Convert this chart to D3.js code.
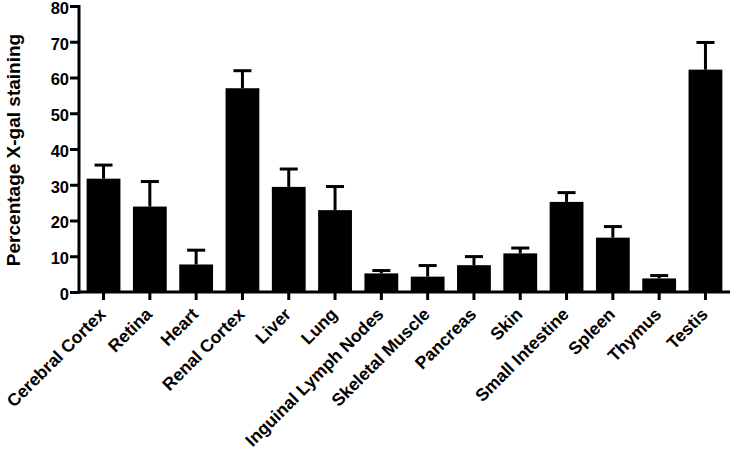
<!DOCTYPE html>
<html>
<head>
<meta charset="utf-8">
<script src="https://cdn.jsdelivr.net/npm/d3@7"></script>
<style>
body { margin: 0; background: #fff; }
text { font-family: "Liberation Sans", Arial, sans-serif; font-weight: bold; }
</style>
</head>
<body>
<svg id="chart" width="733" height="455"></svg>
<script>
// tissues and mean / upper error values
const tissues = ["Cerebral Cortex", "Retina", "Heart", "Renal Cortex", "Liver", "Lung",
  "Inguinal Lymph Nodes", "Skeletal Muscle", "Pancreas", "Skin", "Small Intestine",
  "Spleen", "Thymus", "Testis"];
const means = [31.7, 23.9, 7.7, 57.0, 29.4, 22.9, 5.2, 4.3, 7.5, 10.8, 25.2, 15.2, 3.8, 62.2];
const errs  = [3.8, 7.0, 4.0, 4.9, 5.0, 6.6, 0.8, 3.1, 2.4, 1.5, 2.6, 3.1, 0.8, 7.6];
const yTicks = [0, 10, 20, 30, 40, 50, 60, 70, 80];

const svg = d3.select("#chart");
const mLeft = 79, mRight = 730, mTop = 6, mBottom = 292;

const x = d3.scaleBand().domain(tissues).range([mLeft, mRight])
  .paddingInner(0.27).paddingOuter(0.165);
const y = d3.scaleLinear().domain([0, 80]).range([mBottom, mTop]);

//----bars
svg.selectAll("rect.bar").data(tissues).enter().append("rect")
  .attr("class", "bar")
  .attr("x", d => x(d))
  .attr("width", x.bandwidth())
  .attr("y", (d, i) => y(means[i]))
  .attr("height", (d, i) => y(0) - y(means[i]))
  .attr("fill", "#000");

//----error bars (upper only)
const capW = 18;
tissues.forEach((t, i) => {
  const cx = x(t) + x.bandwidth() / 2;
  svg.append("line")
    .attr("x1", cx).attr("x2", cx)
    .attr("y1", y(means[i])).attr("y2", y(means[i] + errs[i]))
    .attr("stroke", "#000").attr("stroke-width", 3);
  svg.append("line")
    .attr("x1", cx - capW / 2).attr("x2", cx + capW / 2)
    .attr("y1", y(means[i] + errs[i])).attr("y2", y(means[i] + errs[i]))
    .attr("stroke", "#000").attr("stroke-width", 3);
});

//----axes
const yAxis = svg.append("g").attr("transform", `translate(${mLeft},0)`)
  .call(d3.axisLeft(y).tickValues(yTicks).tickSize(9).tickPadding(1));
const xAxis = svg.append("g").attr("transform", `translate(0,${mBottom})`)
  .call(d3.axisBottom(x).tickSize(8).tickSizeOuter(0));

[yAxis, xAxis].forEach(g => {
  g.select(".domain").attr("stroke", "#000").attr("stroke-width", 3);
  g.selectAll(".tick line").attr("stroke", "#000").attr("stroke-width", 3);
});
yAxis.select(".domain").attr("d", `M0,${mBottom + 1.5}V${mTop - 1}`);
yAxis.selectAll(".tick text").attr("font-size", 16.5).attr("fill", "#000").attr("dy", "0.45em");
xAxis.select(".domain").attr("d", `M${mLeft},0H${mRight}`);

xAxis.selectAll(".tick text")
  .attr("font-size", 17.5).attr("fill", "#000")
  .attr("text-anchor", "end")
  .attr("dy", "0.35em")
  .attr("transform", "translate(-1,19) rotate(-45)")
  .attr("y", 0).attr("x", 0);

//----y label
svg.append("text")
  .attr("transform", `translate(20,150) rotate(-90)`)
  .attr("text-anchor", "middle")
  .attr("font-size", 19)
  .text("Percentage X-gal staining");
</script>
</body>
</html>
